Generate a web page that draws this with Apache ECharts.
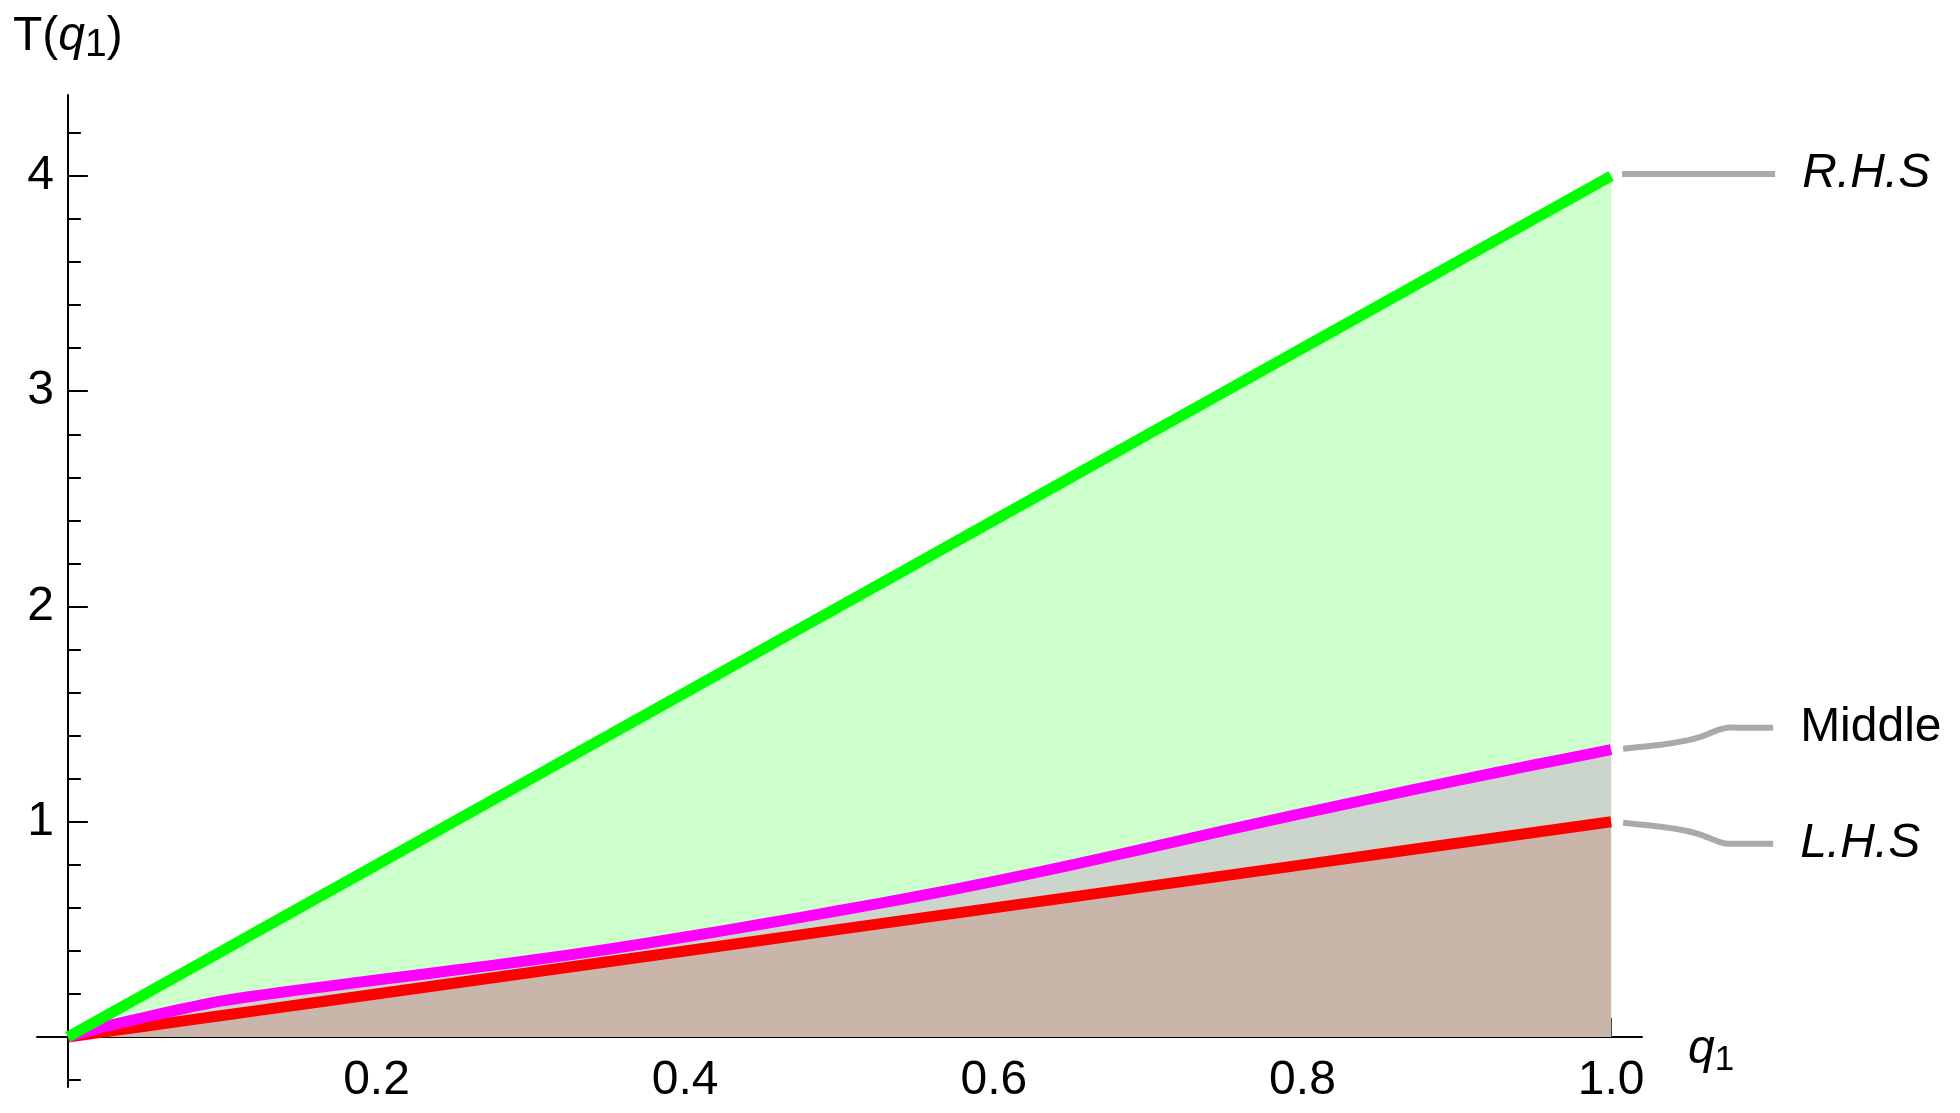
<!DOCTYPE html>
<html>
<head>
<meta charset="utf-8">
<title>T(q1)</title>
<script src="https://cdn.jsdelivr.net/npm/echarts@6/dist/echarts.min.js"></script>
<style>
  html, body { margin: 0; padding: 0; background: #fff; }
  #main { width: 1960px; height: 1113px; }
</style>
</head>
<body>
<div id="main"></div>
<script>
// values
const qValues = [0, 0.025, 0.05, 0.075, 0.1, 0.125, 0.15, 0.2, 0.25, 0.3, 0.35, 0.4, 0.45, 0.5, 0.55, 0.6, 0.65, 0.7, 0.75, 0.8, 0.85, 0.9, 0.95, 1.0]
const rhsValues = [0, 0.1, 0.2, 0.3, 0.4, 0.5, 0.6, 0.8, 1.0, 1.2, 1.4, 1.6, 1.8, 2.0, 2.2, 2.4, 2.6, 2.8, 3.0, 3.2, 3.4, 3.6, 3.8, 4.0]
const middleValues = [0, 0.05, 0.092, 0.132, 0.168, 0.195, 0.219, 0.265, 0.31, 0.357, 0.408, 0.465, 0.525, 0.588, 0.653, 0.723, 0.799, 0.879, 0.96, 1.039, 1.116, 1.191, 1.264, 1.335]
const lhsValues = [0, 0.025, 0.05, 0.075, 0.1, 0.125, 0.15, 0.2, 0.25, 0.3, 0.35, 0.4, 0.45, 0.5, 0.55, 0.6, 0.65, 0.7, 0.75, 0.8, 0.85, 0.9, 0.95, 1.0]

// ticks and labels
const xLabels = [0.2, 0.4, 0.6, 0.8, 1.0]
const xMinorTicks = [0.05, 0.1, 0.15, 0.25, 0.3, 0.35, 0.45, 0.5, 0.55, 0.65, 0.7, 0.75, 0.85, 0.9, 0.95]
const yLabels = [1, 2, 3, 4]
const yMajorTicks = [0, 1, 2, 3, 4]
const yMinorTicks = [-0.2, 0.2, 0.4, 0.6, 0.8, 1.2, 1.4, 1.6, 1.8, 2.2, 2.4, 2.6, 2.8, 3.2, 3.4, 3.6, 3.8, 4.2]

const seriesNames = ['R.H.S', 'Middle', 'L.H.S']
const lineColors = ['#00ff00', '#ff00ff', '#ff0000']
const fillColors = ['#ccffcc', '#ccd5cc', '#cab5aa']

const FONT = '"Liberation Sans", Arial, sans-serif'
const W = 1960
const H = 1113
const GRID = { left: 37, right: 318, top: 95, bottom: 26 }
const X_MIN = -0.02
const X_MAX = 1.02
const Y_MIN = -0.232
const Y_MAX = 4.376

// axes cross at (0, 0), not at the grid edge
const gridW = W - GRID.left - GRID.right
const gridH = H - GRID.top - GRID.bottom
const yAxisShift = -(0 - X_MIN) / (X_MAX - X_MIN) * gridW
const xAxisShift = -(0 - Y_MIN) / (Y_MAX - Y_MIN) * gridH

function pairs (ys) {
  return qValues.map((q, i) => [q, ys[i]])
}

const seriesData = [pairs(rhsValues), pairs(middleValues), pairs(lhsValues)]

let chart = echarts.init(document.getElementById('main'), null, { renderer: 'canvas' })

function baseX (extra) {
  return Object.assign({
    type: 'value',
    min: X_MIN,
    max: X_MAX,
    position: 'bottom',
    offset: xAxisShift,
    splitLine: { show: false },
    axisLine: { onZero: false, lineStyle: { color: '#000', width: 2 } }
  }, extra)
}

function baseY (extra) {
  return Object.assign({
    type: 'value',
    min: Y_MIN,
    max: Y_MAX,
    position: 'left',
    offset: yAxisShift,
    splitLine: { show: false },
    axisLine: { onZero: false, lineStyle: { color: '#000', width: 2 } }
  }, extra)
}

let series = []
// areas first
for (let i = 0; i < 3; i++) {
  series.push({
    name: seriesNames[i] + ' area',
    type: 'line',
    data: seriesData[i],
    showSymbol: false,
    smooth: i === 1 ? 0.3 : false,
    lineStyle: { width: 0 },
    areaStyle: { color: fillColors[i], opacity: 1 },
    silent: true,
    z: 2 + i
  })
}
// lines on top (red, magenta, green)
for (let i = 2; i >= 0; i--) {
  series.push({
    name: seriesNames[i],
    type: 'line',
    data: seriesData[i],
    showSymbol: false,
    smooth: i === 1 ? 0.3 : false,
    lineStyle: { color: lineColors[i], width: 11, cap: 'butt', join: 'round' },
    z: 10 + (2 - i)
  })
}

const option = {
  animation: false,
  backgroundColor: '#fff',
  grid: { left: GRID.left, right: GRID.right, top: GRID.top, bottom: GRID.bottom, containLabel: false, outerBoundsMode: 'none' },
  xAxis: [
    baseX({
      name: '{i|q}{s|1}',
      nameLocation: 'end',
      nameGap: 46,
      nameTextStyle: {
        rich: {
          i: { fontFamily: FONT, fontStyle: 'italic', fontSize: 48, color: '#000', lineHeight: 56 },
          s: { fontFamily: FONT, fontSize: 35, color: '#000', lineHeight: 40, verticalAlign: 'bottom' }
        },
        padding: [26, 0, 0, 0]
      },
      axisTick: { show: true, inside: true, length: 19, customValues: xLabels, lineStyle: { color: '#000', width: 2 } },
      axisLabel: {
        show: true,
        customValues: xLabels,
        margin: 20,
        fontFamily: FONT,
        fontSize: 48,
        color: '#000',
        formatter: v => v.toFixed(1)
      }
    }),
    baseX({
      axisLine: { show: false, onZero: false },
      axisTick: { show: true, inside: true, length: 9, customValues: xMinorTicks, lineStyle: { color: '#000', width: 2 } },
      axisLabel: { show: false }
    })
  ],
  yAxis: [
    baseY({
      name: '{n|T(}{i|q}{s|1}{n|)}',
      nameLocation: 'end',
      nameGap: 30,
      nameTextStyle: {
        rich: {
          n: { fontFamily: FONT, fontSize: 48, color: '#000', lineHeight: 56 },
          i: { fontFamily: FONT, fontStyle: 'italic', fontSize: 48, color: '#000', lineHeight: 56 },
          s: { fontFamily: FONT, fontSize: 39, color: '#000', lineHeight: 34, verticalAlign: 'bottom' }
        }
      },
      axisTick: { show: true, inside: true, length: 20, customValues: yMajorTicks, lineStyle: { color: '#000', width: 2 } },
      axisLabel: {
        show: true,
        customValues: yLabels,
        margin: 14,
        fontFamily: FONT,
        fontSize: 48,
        color: '#000'
      }
    }),
    baseY({
      axisLine: { show: false, onZero: false },
      axisTick: { show: true, inside: true, length: 13, customValues: yMinorTicks, lineStyle: { color: '#000', width: 2 } },
      axisLabel: { show: false }
    })
  ],
  series: series
}

chart.setOption(option)

// callouts at the right end of each curve
function calloutGraphics () {
  const ends = [rhsValues[rhsValues.length - 1], middleValues[middleValues.length - 1], lhsValues[lhsValues.length - 1]]
  const bend = [[12, -1], [50, -5], [75, -9], [90, -13], [100, -17], [108, -20], [116, -22], [126, -22], [162, -22]]
  const shapes = [
    [[11, -2], [164, -2]],
    bend,
    bend.map(d => [d[0], -d[1]])
  ]
  const italic = [true, false, true]
  let els = []
  for (let i = 0; i < 3; i++) {
    const p = chart.convertToPixel({ xAxisIndex: 0, yAxisIndex: 0 }, [qValues[qValues.length - 1], ends[i]])
    const pts = shapes[i].map(d => [p[0] + d[0], p[1] + d[1]])
    els.push({
      type: 'polyline',
      shape: { points: pts, smooth: 0.2 },
      style: { stroke: '#aaaaaa', lineWidth: 6, fill: null, lineJoin: 'round' },
      z: 20
    })
    const last = pts[pts.length - 1]
    els.push({
      type: 'text',
      x: last[0] + 27,
      y: last[1],
      style: {
        text: seriesNames[i],
        font: (italic[i] ? 'italic ' : '') + '48px ' + FONT,
        fill: '#000',
        verticalAlign: 'middle',
        align: 'left'
      },
      z: 20
    })
  }
  return els
}

chart.setOption({ graphic: calloutGraphics() })
</script>
</body>
</html>
